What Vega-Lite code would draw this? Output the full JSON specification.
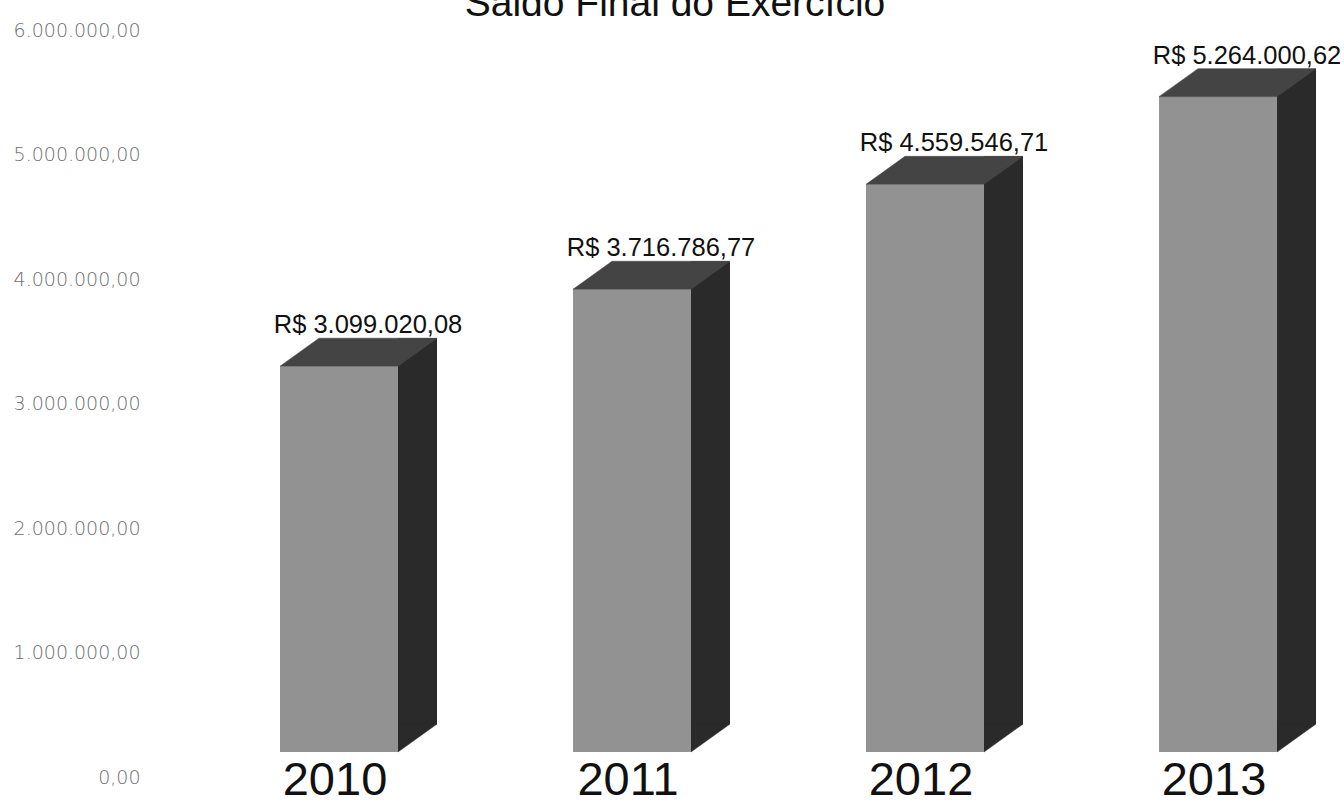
{
  "$schema": "https://vega.github.io/schema/vega-lite/v6.json",
  "width": 1194,
  "height": 747,
  "autosize": {"type": "none"},
  "padding": {"left": 150, "top": 30, "right": 0, "bottom": 26},
  "background": "white",
  "title": {
    "text": "Saldo Final do Exercício",
    "font": "Liberation Sans",
    "fontSize": 39,
    "fontWeight": "normal",
    "color": "#111111",
    "anchor": "middle",
    "frame": "group",
    "dx": -72,
    "baseline": "alphabetic",
    "offset": -34
  },
  "config": {
    "view": {"stroke": null},
    "locale": {
      "number": {"decimal": ",", "thousands": ".", "grouping": [3], "currency": ["R$ ", ""]}
    }
  },
  "data": {
    "values": [
      {"ano": "2010", "saldo": 3099020.08},
      {"ano": "2011", "saldo": 3716786.77},
      {"ano": "2012", "saldo": 4559546.71},
      {"ano": "2013", "saldo": 5264000.62}
    ]
  },
  "encoding": {
    "x": {
      "field": "ano",
      "type": "nominal",
      "sort": null,
      "scale": {"paddingInner": 0.5, "paddingOuter": 0.2875, "align": 0.687, "round": false},
      "axis": {
        "title": null,
        "labelAngle": 0,
        "labelFont": "Liberation Sans",
        "labelFontSize": 47,
        "labelColor": "#111111",
        "ticks": false,
        "tickSize": 0,
        "domain": false,
        "labelPadding": 17,
        "labelOffset": -4,
        "labelBaseline": "alphabetic"
      }
    },
    "y": {
      "field": "saldo",
      "type": "quantitative",
      "scale": {"domain": [0, 6000000], "nice": false, "zero": true},
      "axis": {
        "title": null,
        "format": ",.2f",
        "values": [0, 1000000, 2000000, 3000000, 4000000, 5000000, 6000000],
        "labelFont": "DejaVu Sans",
        "labelFontSize": 19,
        "labelFontWeight": 200,
        "labelColor": "#6e6e6e",
        "ticks": false,
        "tickSize": 0,
        "domain": false,
        "grid": false,
        "labelPadding": 10
      }
    }
  },
  "layer": [
    {
      "mark": {"type": "bar", "width": 39, "xOffset": 78.5, "yOffset": -53, "y2Offset": -53, "color": "#2a2a2a"},
      "encoding": {"y2": {"datum": 0}}
    },
    {
      "mark": {"type": "point", "shape": "M59,0L59,-28L98,-28Z", "size": 4, "filled": true, "color": "#2a2a2a", "stroke": "#2a2a2a", "strokeWidth": 0.5, "opacity": 1, "yOffset": -25},
      "encoding": {"y": {"datum": 0}}
    },
    {
      "mark": {"type": "bar", "width": 118, "yOffset": -25, "y2Offset": -25, "color": "#929292"},
      "encoding": {"y2": {"datum": 0}}
    },
    {
      "mark": {"type": "point", "shape": "M-59,0L59,0L98,-28L-20,-28Z", "size": 4, "filled": true, "color": "#444444", "stroke": "#444444", "strokeWidth": 0.5, "opacity": 1, "yOffset": -25}
    },
    {
      "mark": {"type": "text", "font": "Liberation Sans", "fontSize": 25.5, "dx": 29, "dy": -58, "baseline": "alphabetic", "align": "center", "color": "#111111"},
      "encoding": {"text": {"field": "saldo", "type": "quantitative", "format": "$,.2f"}}
    }
  ]
}
